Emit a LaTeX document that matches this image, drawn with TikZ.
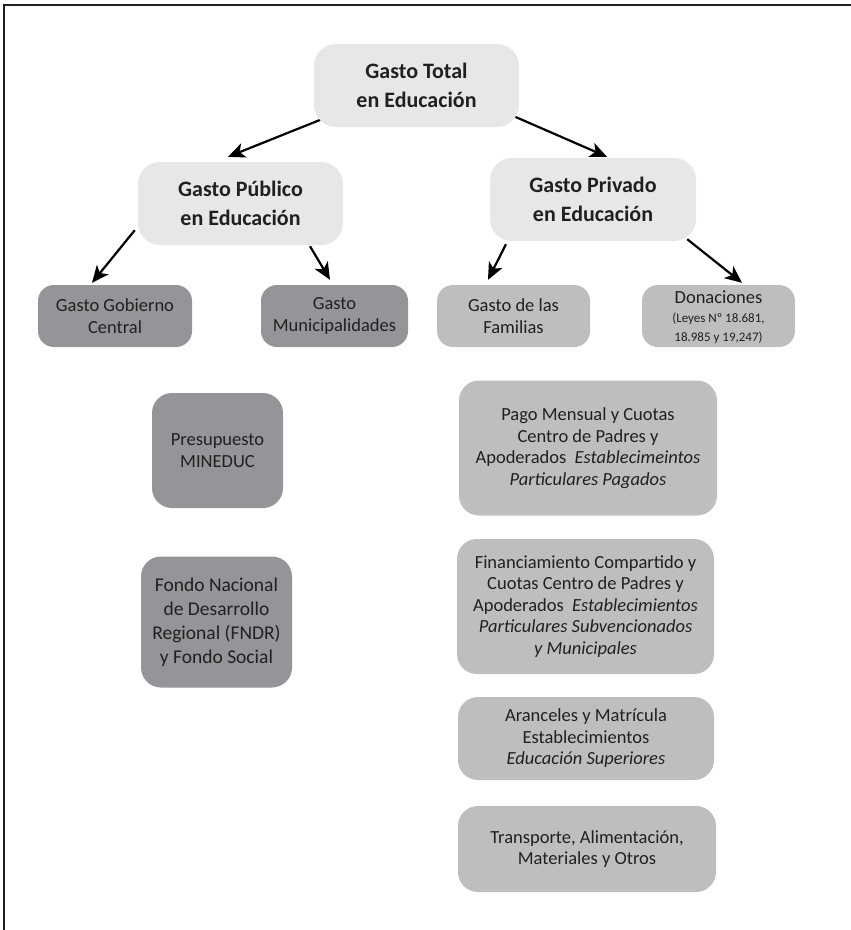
\documentclass[tikz,border=0pt]{standalone}
\usepackage{fontspec}
\setmainfont{Carlito}
\usetikzlibrary{arrows.meta}
\definecolor{lightbox}{HTML}{E6E7E8}
\definecolor{midbox}{HTML}{BCBEC0}
\definecolor{darkbox}{HTML}{939598}
\definecolor{ink}{HTML}{231F20}
\pgfdeclarelayer{background}
\pgfsetlayers{background,main}
\newcommand{\smallfnt}{\fontsize{13}{18}\selectfont}
\begin{document}
\begin{tikzpicture}[x=1pt,y=-1pt,
  box/.style={rectangle, inner sep=0pt, align=center, text=ink},
  titlebox/.style={box, fill=lightbox, rounded corners=22pt, minimum width=205pt, minimum height=83pt,
    font=\fontsize{22}{29}\selectfont\bfseries},
  darkitem/.style={box, fill=darkbox, rounded corners=16pt, font=\fontsize{18.5}{22}\selectfont},
  miditem/.style={box, fill=midbox, rounded corners=16pt, font=\fontsize{18.5}{22}\selectfont},
  bigitem/.style={box, fill=midbox, rounded corners=20pt, font=\fontsize{18.5}{21.5}\selectfont},
  arr/.style={line width=2.2pt, draw=black, -{Stealth[length=17pt,width=15pt,inset=4.5pt]}}
]
\useasboundingbox (0,0) rectangle (851,930);
\draw[line width=1.5pt, draw=ink] (4,930) -- (4,5) -- (851,5);

\node[titlebox] (top) at (416.5,85.5) {Gasto Total\\en Educación};
\node[titlebox] (pub) at (240.5,203.5) {Gasto Público\\en Educación};
\node[titlebox, minimum width=206pt] (priv) at (593,199.5) {Gasto Privado\\en Educación};

\node[darkitem, minimum width=154pt, minimum height=62pt] (gob) at (115,316) {Gasto Gobierno\\Central};
\node[darkitem, minimum width=147pt, minimum height=62pt] (muni) at (334.5,316) {Gasto\\Municipalidades};
\node[miditem, minimum width=153pt, minimum height=62pt] (fam) at (513.5,316) {Gasto de las\\Familias};
\node[miditem, minimum width=153pt, minimum height=62pt, text height=0pt] (don) at (718.5,316) {};
\node[box, font=\fontsize{18.5}{22}\selectfont] (donT) at ([yshift=-1pt]don.center)
  {Donaciones\\[-3pt]\smallfnt (Leyes Nº 18.681,\\[-3pt]\smallfnt 18.985 y 19,247)};

\node[darkitem, rounded corners=20pt, minimum width=131pt, minimum height=115pt] (presup) at (217.5,450.5) {Presupuesto\\MINEDUC};
\node[darkitem, rounded corners=20pt, minimum width=151pt, minimum height=131pt, font=\fontsize{19.5}{24}\selectfont] (fondo) at (216.5,622)
  {Fondo Nacional\\de Desarrollo\\Regional (FNDR)\\y Fondo Social};

\node[bigitem, minimum width=258pt, minimum height=135pt] (pago) at (588,448)
  {Pago Mensual y Cuotas\\Centro de Padres y\\Apoderados\ \ \textit{Establecimeintos}\\\textit{Particulares Pagados}};
\node[bigitem, minimum width=257pt, minimum height=135pt] (finan) at (585.5,606.5)
  {Financiamiento Compartido y\\Cuotas Centro de Padres y\\Apoderados\ \ \textit{Establecimientos}\\\textit{Particulares Subvencionados}\\\textit{y Municipales}};
\node[bigitem, minimum width=256pt, minimum height=83pt] (aranc) at (586,738.5)
  {Aranceles y Matrícula\\Establecimientos\\\textit{Educación Superiores}};
\node[bigitem, minimum width=258pt, minimum height=86pt] (transp) at (587,849)
  {Transporte, Alimentación,\\Materiales y Otros};

\begin{pgfonlayer}{background}
\draw[arr] ([xshift=13pt,yshift=10pt]top.south west) -- ([xshift=-12.5pt,yshift=5pt]pub.north);
\draw[arr] ([xshift=-10pt,yshift=13pt]top.south east) -- ([xshift=14pt,yshift=1pt]priv.north);
\draw[arr] ([xshift=-3pt,yshift=15pt]pub.south west) -- ([xshift=-23pt,yshift=2pt]gob.north);
\draw[arr] ([xshift=69.5pt,yshift=-1pt]pub.south) -- ([xshift=-4.5pt,yshift=5pt]muni.north);
\draw[arr] ([xshift=-87pt,yshift=-3pt]priv.south) -- ([xshift=-25.5pt,yshift=5pt]fam.north);
\draw[arr] ([xshift=-9pt,yshift=2pt]priv.south east) -- ([xshift=23.5pt,yshift=2pt]don.north);
\end{pgfonlayer}
\end{tikzpicture}
\end{document}
